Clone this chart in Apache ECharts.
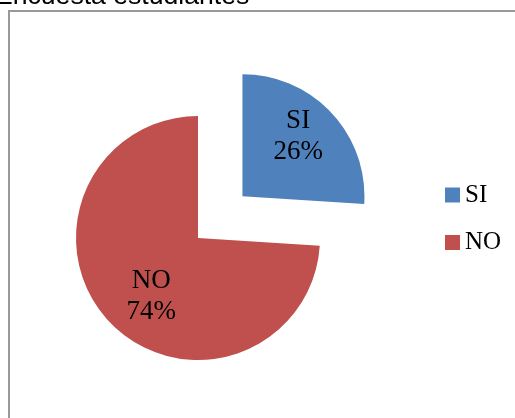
<!DOCTYPE html>
<html>
<head>
<meta charset="utf-8">
<script src="https://cdn.jsdelivr.net/npm/echarts@6/dist/echarts.min.js"></script>
<style>
html,body{margin:0;padding:0;background:#fff;}
#main{width:515px;height:418px;}
</style>
</head>
<body>
<div id="main"></div>
<script>
var titleText = 'Encuesta estudiantes';
var categories = ['SI', 'NO'];
var values = [26, 74];
var colors = ['#4F81BD', '#C0504D'];
var labelOffsets = [[9, -16], [0, 15]];

var chart = echarts.init(document.getElementById('main'));
var serif = '"Liberation Serif", "Times New Roman", serif';

var data = categories.map(function (c, i) {
  return {
    name: c,
    value: values[i],
    selected: i === 0,
    itemStyle: { color: colors[i] },
    label: { offset: labelOffsets[i] },
    select: { label: { offset: labelOffsets[i] }, itemStyle: { color: colors[i] } }
  };
});

chart.setOption({
  animation: false,
  backgroundColor: '#ffffff',
  title: {
    text: titleText,
    left: -5,
    top: -17,
    padding: 0,
    textStyle: {
      fontFamily: '"Liberation Sans", Arial, sans-serif',
      fontSize: 26.6,
      fontWeight: 'normal',
      color: '#000'
    }
  },
  graphic: [{
    type: 'rect',
    silent: true,
    z: -1,
    shape: { x: 9, y: 11, width: 700, height: 700 },
    style: { fill: null, stroke: '#999999', lineWidth: 2 }
  }],
  legend: {
    orient: 'vertical',
    left: 445,
    top: 182,
    padding: 0,
    icon: 'rect',
    itemWidth: 15,
    itemHeight: 15,
    itemGap: 21.5,
    data: categories,
    selectedMode: false,
    textStyle: {
      fontFamily: serif,
      fontSize: 25,
      lineHeight: 26,
      color: '#000'
    }
  },
  series: [{
    type: 'pie',
    center: [198, 238],
    radius: [0, 122],
    startAngle: 90,
    clockwise: true,
    selectedMode: 'single',
    selectedOffset: 61,
    avoidLabelOverlap: false,
    data: data,
    label: {
      show: true,
      position: 'inside',
      formatter: '{b}\n{d}%',
      fontFamily: serif,
      fontSize: 27,
      lineHeight: 31,
      color: '#000'
    },
    labelLine: { show: false },
    emphasis: { disabled: true },
    itemStyle: { borderWidth: 0 }
  }]
});
</script>
</body>
</html>
